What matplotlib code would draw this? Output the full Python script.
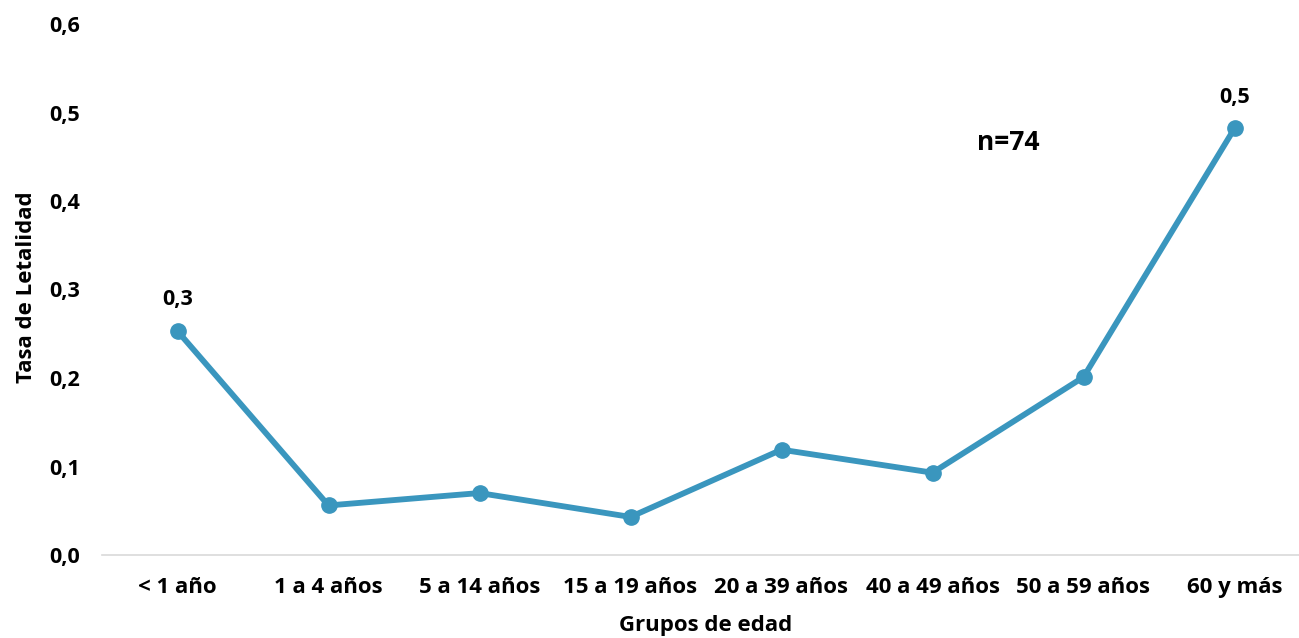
import matplotlib
matplotlib.use("Agg")
import matplotlib.pyplot as plt

categories = ["< 1 año", "1 a 4 años", "5 a 14 años", "15 a 19 años",
              "20 a 39 años", "40 a 49 años", "50 a 59 años", "60 y más"]
tasa = [0.253, 0.056, 0.070, 0.043, 0.119, 0.093, 0.201, 0.482]
labeled = {0: "0,3", 7: "0,5"}
yticks = [0.0, 0.1, 0.2, 0.3, 0.4, 0.5, 0.6]

plt.rcParams['font.family'] = ['Open Sans', 'DejaVu Sans']
plt.rcParams['font.weight'] = 'bold'

FS = 16
W, H = 1299, 638
fig = plt.figure(figsize=(W / 100, H / 100), dpi=100)
left, right, bottom, top = 102, 1310, 555, 24
ax = fig.add_axes([left / W, (H - bottom) / H, (right - left) / W, (bottom - top) / H])

color = "#3A96BE"
x = list(range(len(categories)))
ax.plot(x, tasa, color=color, lw=4.2, marker="o", markersize=11, zorder=3)

for i, lab in labeled.items():
    ax.annotate(lab, (x[i], tasa[i]), xytext=(0, 15), textcoords="offset points",
                ha="center", va="bottom", fontsize=15.5, fontweight="bold")

ax.set_xlim(-0.5, len(categories) - 0.5)
ax.set_ylim(0, 0.6)
ax.set_yticks(yticks)
ax.set_yticklabels([f"{v:.1f}".replace(".", ",") for v in yticks])
ax.set_xticks(x)
ax.set_xticklabels(categories)

for s in ["top", "right", "left"]:
    ax.spines[s].set_visible(False)
ax.spines["bottom"].set_color("#D9D9D9")
ax.spines["bottom"].set_linewidth(1.2)
ax.tick_params(axis="both", length=0)
ax.tick_params(axis="x", pad=16, labelsize=FS)
ax.tick_params(axis="y", pad=16, labelsize=15.5)
for t in ax.get_xticklabels() + ax.get_yticklabels():
    t.set_fontweight("bold")

fig.text(27 / W, 1 - 287 / H, "Tasa de Letalidad", rotation=90, ha="center", va="center",
         fontsize=FS, fontweight="bold")
fig.text(706 / W, 1 - 626 / H, "Grupos de edad", ha="center", va="center",
         fontsize=FS, fontweight="bold")
fig.text(1008 / W, 1 - 143 / H, "n=74", ha="center", va="center",
         fontsize=19, fontweight="bold")

fig.savefig("out.png", dpi=100, facecolor="white")
